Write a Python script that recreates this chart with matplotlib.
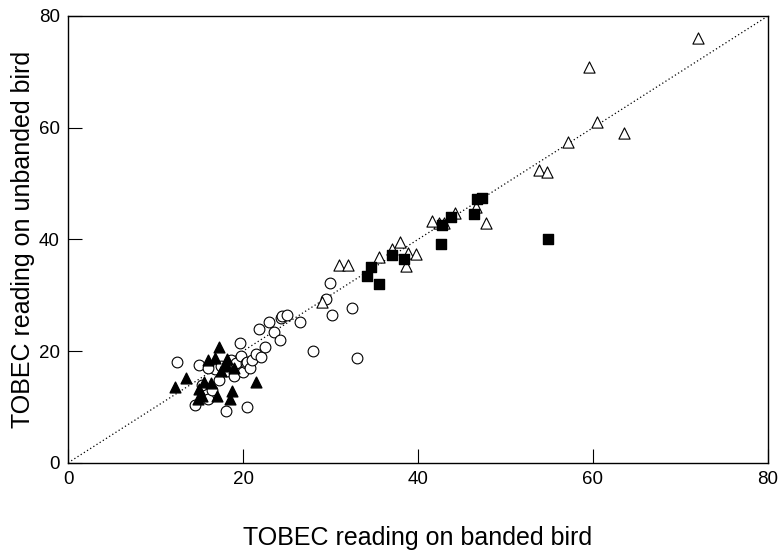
import numpy as np
import matplotlib.pyplot as plt

plt.rcParams['font.family'] = ['Liberation Sans', 'DejaVu Sans']

# open triangles
tri_open_x = [72.0, 59.5, 60.5, 63.5, 57.2, 53.8, 54.7, 47.8, 46.6, 44.2, 43.0, 42.4,
              41.6, 38.0, 38.6, 38.9, 39.8, 37.0, 35.5, 31.0, 32.0, 29.0]
tri_open_y = [76.0, 70.8, 61.0, 59.0, 57.5, 52.5, 52.0, 43.0, 45.8, 44.8, 43.0, 43.0,
              43.3, 39.5, 35.2, 37.6, 37.3, 38.2, 36.8, 35.5, 35.5, 28.8]

# filled squares
sq_x = [47.3, 46.8, 46.4, 43.8, 42.8, 42.6, 38.4, 37.0, 34.6, 34.2, 35.6, 54.9]
sq_y = [47.5, 47.2, 44.5, 44.0, 42.5, 39.2, 36.5, 37.2, 35.0, 33.5, 32.0, 40.0]

# open circles
circ_x = [12.5, 14.5, 15.0, 15.3, 16.0, 16.5, 16.8, 17.2, 17.5, 18.0, 18.2, 18.6,
          19.0, 19.2, 19.6, 19.8, 20.0, 20.3, 20.5, 20.5, 20.8, 21.0, 21.5, 21.8,
          22.0, 22.5, 23.0, 23.5, 24.2, 24.3, 24.5, 25.0, 26.5, 28.0, 29.5, 30.0,
          30.2, 32.5, 33.0, 16.0]
circ_y = [18.0, 10.3, 17.5, 14.0, 11.5, 13.0, 16.8, 14.8, 17.3, 9.3, 16.5, 18.5,
          15.5, 17.8, 21.5, 19.2, 16.3, 17.8, 10.0, 18.0, 17.0, 18.5, 19.5, 24.0,
          19.0, 20.8, 25.2, 23.5, 22.0, 26.0, 26.2, 26.5, 25.2, 20.0, 29.3, 32.2,
          26.5, 27.8, 18.7, 17.0]

# filled triangles
tri_fill_x = [12.2, 13.5, 14.8, 15.0, 15.3, 15.5, 16.0, 16.3, 16.8, 17.2, 17.5, 17.8,
              18.2, 18.5, 18.7, 19.0, 18.0, 21.5, 17.0]
tri_fill_y = [13.5, 15.2, 11.5, 13.2, 12.0, 14.5, 18.5, 14.3, 18.7, 20.7, 16.5, 17.3,
              18.6, 11.5, 12.8, 17.0, 17.5, 14.5, 12.0]

fig = plt.figure(figsize=(7.82, 5.51), dpi=100)
ax = fig.add_axes([0.087, 0.16, 0.895, 0.811])

# line of equality
ax.plot([0, 80], [0, 80], color='black', linestyle=(0, (1, 2)), linewidth=0.9, zorder=1)

ax.scatter(circ_x, circ_y, s=60, facecolors='white', edgecolors='black', linewidths=0.8, marker='o', zorder=2)
ax.scatter(tri_fill_x, tri_fill_y, s=60, color='black', marker='^', zorder=3)
ax.scatter(tri_open_x, tri_open_y, s=65, facecolors='white', edgecolors='black', linewidths=0.8, marker='^', zorder=2)
ax.scatter(sq_x, sq_y, s=42, color='black', marker='s', zorder=3)

ax.set_xlim(0, 80)
ax.set_ylim(0, 80)
ax.set_xticks([0, 20, 40, 60, 80])
ax.set_yticks([0, 20, 40, 60, 80])
ax.tick_params(direction='in', length=10, width=0.8, labelsize=13.5, pad=6)
for s in ax.spines.values():
    s.set_linewidth(1.0)

ax.set_xlabel('TOBEC reading on banded bird', fontsize=18, labelpad=27)
ax.set_ylabel('TOBEC reading on unbanded bird', fontsize=18, labelpad=3)

fig.savefig('out.png', dpi=100)
